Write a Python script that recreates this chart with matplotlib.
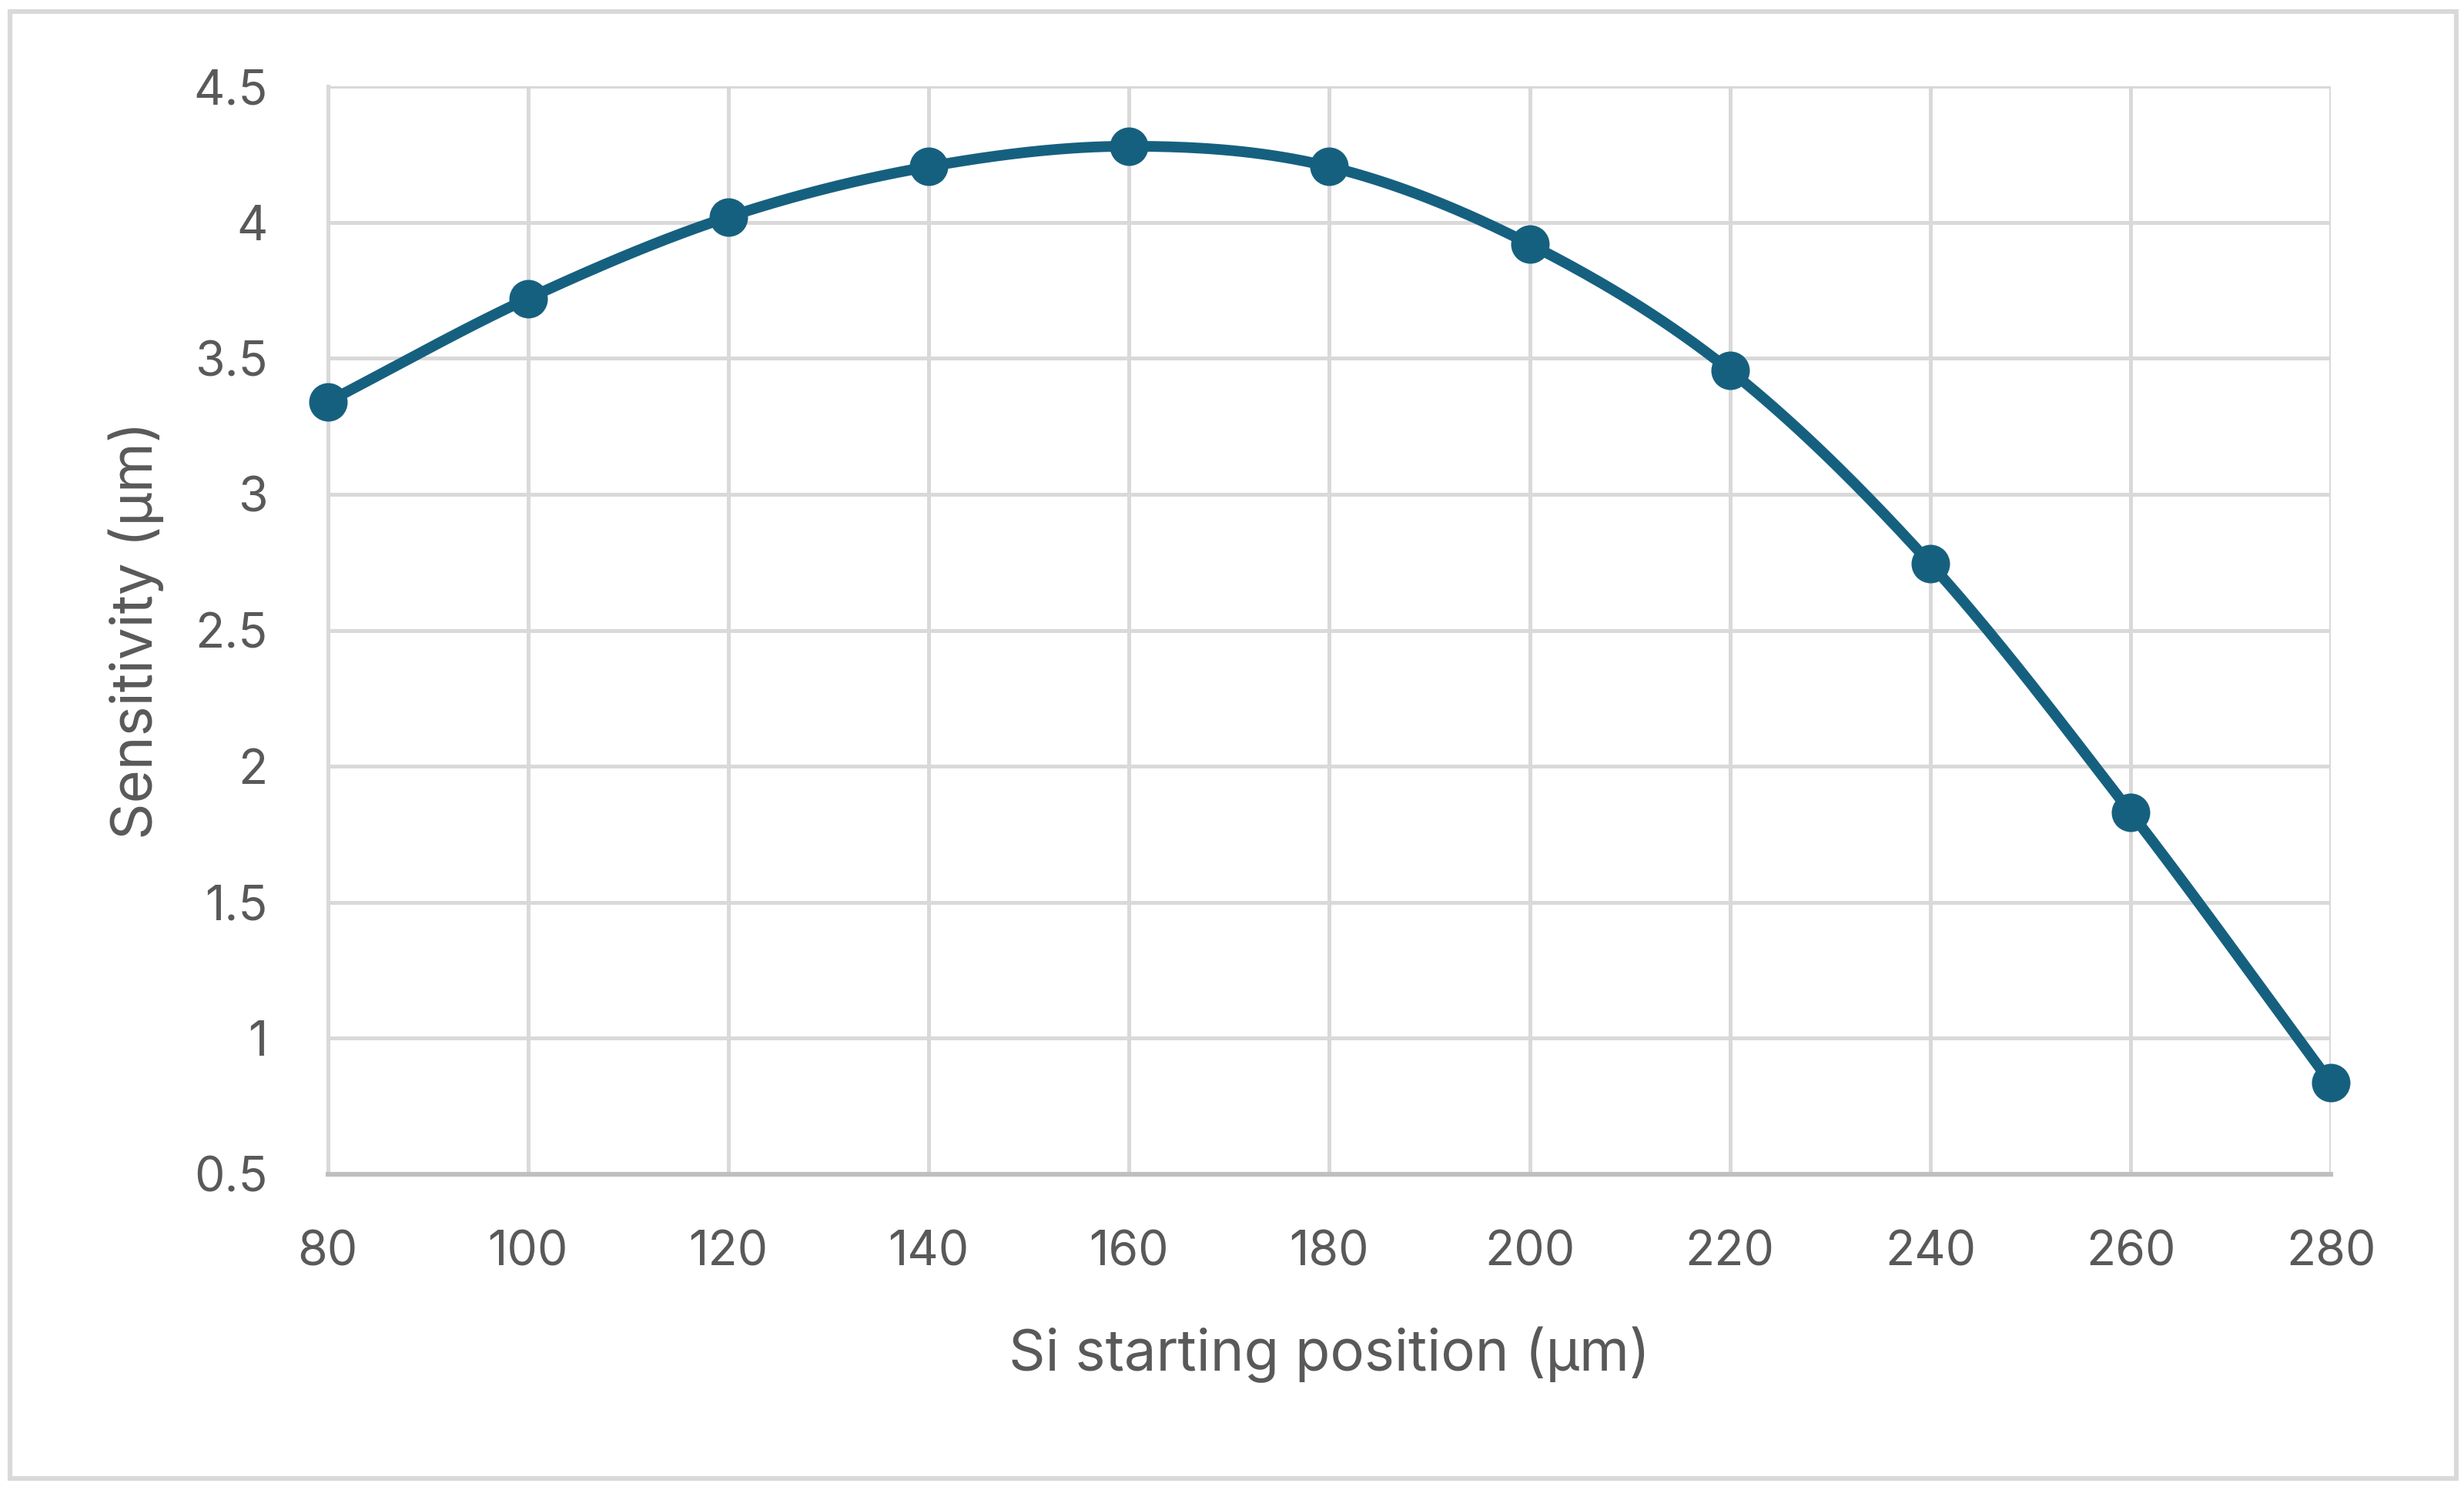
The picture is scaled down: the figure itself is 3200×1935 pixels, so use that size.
import matplotlib
matplotlib.use('Agg')
import matplotlib.pyplot as plt
import numpy as np

plt.rcParams['font.family'] = ['Inter', 'DejaVu Sans']

# data
si_start = [80, 100, 120, 140, 160, 180, 200, 220, 240, 260, 280]
sensitivity = [3.34, 3.72, 4.02, 4.205, 4.28, 4.205, 3.92, 3.455, 2.745, 1.83, 0.835]
x_ticks = [80, 100, 120, 140, 160, 180, 200, 220, 240, 260, 280]
y_ticks = [0.5, 1, 1.5, 2, 2.5, 3, 3.5, 4, 4.5]
y_tick_labels = ['0.5', '1', '1.5', '2', '2.5', '3', '3.5', '4', '4.5']

line_color = '#16607F'
text_color = '#595959'
grid_color = '#D9D9D9'


def smooth_curve(x, y, n=40):
    # Catmull-Rom style smoothing, similar to Excel's "smoothed line"
    x = np.asarray(x, float)
    y = np.asarray(y, float)
    px = np.concatenate([[2 * x[0] - x[1]], x, [2 * x[-1] - x[-2]]])
    py = np.concatenate([[2 * y[0] - y[1]], y, [2 * y[-1] - y[-2]]])
    xs, ys = [], []
    t = np.linspace(0, 1, n)
    for i in range(1, len(px) - 2):
        p0, p1, p2, p3 = px[i - 1], px[i], px[i + 1], px[i + 2]
        q0, q1, q2, q3 = py[i - 1], py[i], py[i + 1], py[i + 2]
        b1x, b1y = p1 + (p2 - p0) / 6, q1 + (q2 - q0) / 6
        b2x, b2y = p2 - (p3 - p1) / 6, q2 - (q3 - q1) / 6
        bx = (1 - t) ** 3 * p1 + 3 * (1 - t) ** 2 * t * b1x + 3 * (1 - t) * t ** 2 * b2x + t ** 3 * p2
        by = (1 - t) ** 3 * q1 + 3 * (1 - t) ** 2 * t * b1y + 3 * (1 - t) * t ** 2 * b2y + t ** 3 * q2
        xs.extend(bx)
        ys.extend(by)
    return np.array(xs), np.array(ys)


fig = plt.figure(figsize=(16, 9.675), dpi=200)
ax = fig.add_axes([0.133, 0.212, 0.813, 0.730])

sx, sy = smooth_curve(si_start, sensitivity)
ax.plot(sx, sy, color=line_color, lw=5, solid_capstyle='round', zorder=3, clip_on=False)
ax.plot(si_start, sensitivity, 'o', color=line_color, ms=17, zorder=4, clip_on=False)

ax.set_xlim(80, 280)
ax.set_ylim(0.5, 4.5)
ax.set_xticks(x_ticks)
ax.set_yticks(y_ticks)
ax.set_yticklabels(y_tick_labels)
ax.grid(True, color=grid_color, lw=1.8)
ax.set_axisbelow(True)

for side in ['top', 'right']:
    ax.spines[side].set_visible(False)
ax.spines['left'].set_color(grid_color)
ax.spines['left'].set_linewidth(1.8)
ax.spines['bottom'].set_color('#BFBFBF')
ax.spines['bottom'].set_linewidth(2.2)

ax.tick_params(axis='both', length=0, labelsize=22.5, colors=text_color)
ax.tick_params(axis='y', pad=28)
ax.tick_params(axis='x', pad=26)

ax.set_xlabel('Si starting position (µm)', fontsize=26.7, color=text_color, labelpad=24)
ax.set_ylabel('Sensitivity (µm)', fontsize=26.7, color=text_color, labelpad=14)

# outer chart border
border = plt.Rectangle((0.004, 0.008), 0.993, 0.984, transform=fig.transFigure,
                       fill=False, edgecolor=grid_color, lw=2.2)
fig.patches.append(border)

fig.savefig('out.png', dpi=200, facecolor='white')
